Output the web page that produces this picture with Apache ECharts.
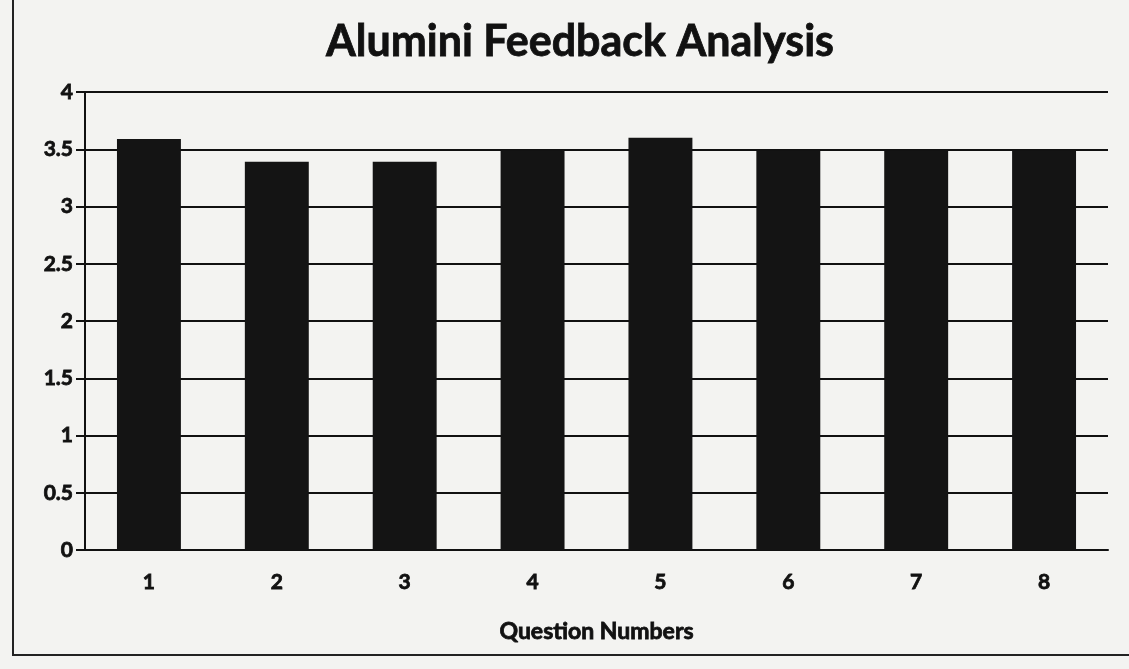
<!DOCTYPE html>
<html><head><meta charset="utf-8">
<script src="https://cdn.jsdelivr.net/npm/echarts@6/dist/echarts.min.js"></script>
<style>html,body{margin:0;padding:0;background:#f3f3f1}#c{width:1129px;height:669px}</style>
</head><body><div id="c"></div>
<script>
const categories = ['1','2','3','4','5','6','7','8'];
const scores = [3.59, 3.39, 3.39, 3.49, 3.6, 3.49, 3.49, 3.49];
const yTicks = ['0','0.5','1','1.5','2','2.5','3','3.5','4'];

const chart = echarts.init(document.getElementById('c'));
const fontF = 'Lato, "Open Sans", sans-serif';
const heavy = {textBorderColor: '#111', textBorderWidth: 0.8};
chart.setOption({
  backgroundColor: '#f3f3f1',
  animation: false,
  title: {
    text: 'Alumini Feedback Analysis', left: 575, textAlign: 'center', top: 16,
    textStyle: Object.assign({fontFamily: fontF, fontWeight: 'bold', fontSize: 43, color: '#111'}, heavy)
  },
  graphic: [{type: 'rect', shape: {x: 13, y: -5, width: 1130, height: 660},
    style: {fill: 'none', stroke: '#222', lineWidth: 2}, silent: true}],
  grid: {left: 85, right: 21, top: 92, bottom: 119},
  xAxis: {
    type: 'category', data: categories,
    axisLine: {lineStyle: {color: '#111', width: 2}},
    axisTick: {show: false},
    axisLabel: Object.assign({margin: 22, fontFamily: fontF, fontWeight: 'bold', fontSize: 21, color: '#111'}, heavy),
    name: 'Question Numbers', nameLocation: 'middle', nameGap: 70,
    nameTextStyle: Object.assign({fontFamily: fontF, fontWeight: 'bold', fontSize: 23, color: '#111'}, heavy)
  },
  yAxis: {
    type: 'value', min: 0, max: 4, interval: 0.5,
    axisLine: {show: true, lineStyle: {color: '#111', width: 2}},
    axisTick: {show: true, length: 9, lineStyle: {color: '#111', width: 2}},
    splitLine: {lineStyle: {color: '#111', width: 2}},
    axisLabel: Object.assign({margin: 12, fontFamily: fontF, fontWeight: 'bold', fontSize: 21, color: '#111',
      formatter: (v) => yTicks[Math.round(v / 0.5)]}, heavy)
  },
  series: [{type: 'bar', data: scores, barWidth: '50%', itemStyle: {color: '#141414'}}]
});
</script></body></html>
